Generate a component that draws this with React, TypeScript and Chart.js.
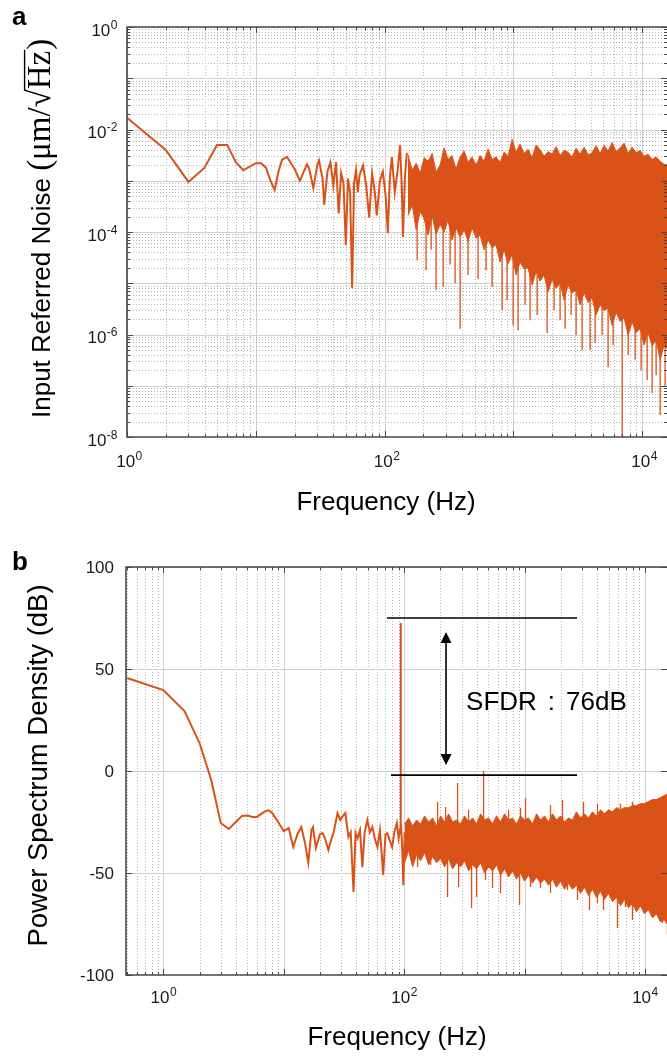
import React, { useEffect, useRef } from "react";
import { Chart, registerables } from "chart.js";

Chart.register(...registerables);

const SANS = '"Liberation Sans", Arial, Helvetica, sans-serif';
const SERIF = '"Liberation Serif", "Times New Roman", serif';
const ORANGE = "rgb(217,83,25)";
const AXIS = "#474747";
const MAJOR_GRID = "#d0d0d0";
const MINOR_GRID = "#b4b4b4";

// ---------------- Panel a : input referred noise ----------------
const aFreqRange = [1, 15600];
const aNoiseRange = [1e-8, 1];
const aXTickExps = [0, 2, 4];
const aYTickExps = [0, -2, -4, -6, -8];

const aTraceFreq = [1, 2, 3, 4, 5, 6, 7, 8, 10, 11, 12, 13, 14, 15, 16, 17.5, 20, 22, 23, 25, 26, 28, 30, 31, 33, 34, 36, 38, 40, 42, 44, 46, 48, 50, 52, 54, 56, 58, 60, 62, 64, 68, 72, 76, 80, 84, 87, 92, 97, 102, 106, 110, 114, 120, 126, 132, 136, 139, 144, 149];
const aTraceNoise = [1.7e-2, 4.0e-3, 9.5e-4, 1.8e-3, 5.0e-3, 5.0e-3, 2.3e-3, 1.6e-3, 2.2e-3, 2.2e-3, 1.8e-3, 1.0e-3, 6.6e-4, 1.5e-3, 2.6e-3, 2.9e-3, 1.7e-3, 1.0e-3, 1.3e-3, 2.1e-3, 1.7e-3, 7.2e-4, 2.0e-3, 2.5e-3, 1.1e-3, 3.4e-4, 1.5e-3, 2.3e-3, 8e-4, 2.3e-3, 2.3e-4, 1.4e-3, 9e-4, 5.6e-5, 1.1e-3, 6e-4, 8e-6, 9e-4, 1.6e-3, 6e-4, 1.3e-3, 2.0e-3, 8e-4, 1.9e-4, 1.4e-3, 6e-4, 2.1e-4, 1.0e-3, 1.5e-3, 5e-4, 9.5e-5, 1.2e-3, 2.9e-3, 6e-4, 1.5e-3, 5e-3, 8e-4, 8e-5, 1.2e-3, 3.5e-3];

const aBandFreq = [152, 164, 176, 189, 203, 218, 234, 251, 270, 290, 311, 334, 359, 386, 415, 445, 478, 514, 552, 593, 637, 684, 735, 789, 848, 910, 978, 1050, 1128, 1212, 1302, 1398, 1502, 1614, 1733, 1862, 2000, 2148, 2307, 2479, 2662, 2860, 3072, 3299, 3544, 3807, 4089, 4392, 4718, 5069, 5443, 5848, 6283, 6748, 7249, 7787, 8362, 8983, 9649, 10364, 11133, 11958, 12847, 13799, 14822, 15920];
const aBandTop = [3.2e-3, 1.6e-3, 2.2e-3, 1.4e-3, 2.8e-3, 2.4e-3, 3.4e-3, 1.5e-3, 2.0e-3, 4.4e-3, 2.6e-3, 3.1e-3, 1.7e-3, 2.9e-3, 3.8e-3, 2.3e-3, 2.9e-3, 2.0e-3, 3.1e-3, 2.4e-3, 4.2e-3, 2.6e-3, 2.9e-3, 2.3e-3, 3.6e-3, 3.0e-3, 6.4e-3, 3.6e-3, 5.2e-3, 3.4e-3, 4.1e-3, 2.8e-3, 5.0e-3, 4.0e-3, 3.0e-3, 3.7e-3, 3.3e-3, 4.6e-3, 3.1e-3, 3.9e-3, 3.6e-3, 2.9e-3, 4.3e-3, 3.3e-3, 4.5e-3, 3.2e-3, 3.5e-3, 4.8e-3, 3.4e-3, 4.9e-3, 3.8e-3, 5.6e-3, 3.7e-3, 4.4e-3, 5.4e-3, 3.4e-3, 4.5e-3, 3.5e-3, 3.9e-3, 3.0e-3, 3.3e-3, 2.6e-3, 2.9e-3, 2.4e-3, 2.1e-3, 2.0e-3];
const aBandBottom = [2.1e-4, 3.4e-4, 1.1e-4, 2.5e-4, 1.8e-4, 8.7e-5, 2.1e-4, 9.0e-5, 1.4e-4, 1.0e-4, 1.7e-4, 7.0e-5, 1.2e-4, 8.0e-5, 1.1e-4, 6.6e-5, 1.2e-4, 7.6e-5, 8.7e-5, 4.5e-5, 7.0e-5, 5.0e-5, 5.6e-5, 2.6e-5, 4.5e-5, 2.4e-5, 3.6e-5, 1.45e-5, 2.6e-5, 1.9e-5, 2.0e-5, 9.2e-6, 1.7e-5, 1.1e-5, 1.45e-5, 6.7e-6, 1.2e-5, 8.0e-6, 1.0e-5, 4.7e-6, 9.2e-6, 6.5e-6, 7.4e-6, 3.8e-6, 6.5e-6, 4.2e-6, 5.2e-6, 2.4e-6, 3.8e-6, 2.9e-6, 3.3e-6, 1.5e-6, 2.7e-6, 1.8e-6, 2.1e-6, 9.8e-7, 1.75e-6, 1.1e-6, 1.3e-6, 6.2e-7, 1.1e-6, 6.0e-7, 7.8e-7, 3.2e-7, 6.2e-7, 5.0e-7];

const aSpikeFreq = [179, 210, 230, 251, 285, 323, 353, 386, 445, 532, 614, 684, 818, 894, 996, 1089, 1234, 1349, 1530, 1829, 2073, 2307, 2523, 2809, 3072, 3420, 3946, 4315, 4890, 5443, 5955, 6995, 7787, 8824, 9822, 10935, 11958, 12847, 13799, 15085];
const aSpikeLow = [2.8e-5, 1.8e-5, 4.5e-5, 7.4e-6, 8.5e-6, 2.3e-5, 1.0e-5, 1.3e-6, 1.45e-5, 1.2e-5, 1.8e-5, 8.5e-6, 3.0e-6, 4.7e-6, 1.5e-6, 1.2e-6, 3.8e-6, 1.9e-6, 2.4e-6, 1.07e-6, 3.0e-6, 1.9e-6, 1.3e-6, 2.4e-6, 9.8e-7, 5.0e-7, 5.0e-7, 6.8e-7, 9.8e-7, 2.3e-7, 6.2e-7, 5e-9, 4.0e-7, 3.2e-7, 2.0e-7, 1.3e-7, 7.2e-8, 1.6e-7, 2.7e-8, 9.5e-8];
const aSpikeHigh = [1e-3, 1e-3, 1e-3, 1e-3, 1e-3, 1e-3, 1e-3, 1e-3, 1e-3, 1e-3, 1e-3, 1e-3, 1e-3, 1e-3, 1e-3, 1e-3, 1e-3, 1e-3, 1e-3, 1e-3, 1e-3, 1e-3, 1e-3, 1e-3, 1e-3, 1e-3, 1e-3, 1e-3, 1e-3, 1e-3, 1e-3, 1e-3, 1e-3, 1e-3, 1e-3, 1e-3, 1e-3, 1e-3, 1e-3, 1e-3];

// ---------------- Panel b : power spectrum density ----------------
const bFreqRange = [0.49, 15250];
const bDbRange = [-100, 100];
const bXTickExps = [0, 2, 4];
const bYTicks = [100, 50, 0, -50, -100];

const bTraceFreq = [0.5, 1, 1.5, 2, 2.5, 3, 3.5, 4, 4.5, 5, 5.5, 6, 6.5, 7, 7.5, 8, 9, 10, 11, 12, 13, 14, 15, 16, 17, 17.5, 18.5, 20, 21, 22, 23.5, 25, 26, 28, 29.5, 31, 32.5, 34.5, 36, 38, 39.5, 41, 43, 45, 47, 49.5, 52, 54.5, 57, 60, 63, 67, 70, 72.5, 76, 79.5, 83, 87, 90, 93, 93.5, 94, 96, 98.5, 101];
const bTraceDb = [45.6, 39.7, 29.4, 13.7, -4.4, -25.5, -28.4, -25, -22, -21.8, -22.5, -22.5, -21, -19.8, -19.3, -20.5, -25, -29.5, -28, -37.3, -31, -27.5, -35, -45, -29, -27.5, -37.7, -31, -30.4, -33, -38.7, -33, -30, -20.6, -24, -22, -20.6, -32.4, -30, -59.3, -30.4, -33, -29, -47.1, -30, -24, -30, -27.5, -33, -37.3, -29, -51, -31, -30.4, -34, -37.3, -30, -25.5, -33, -28, 72.5, -25, -35, -56, -30];

const bBandFreq = [101, 109, 117.6, 127, 137, 148, 159.7, 172.4, 186.1, 200.9, 216.8, 234, 252.6, 272.7, 294.3, 317.7, 343, 370.2, 399.6, 431.4, 465.6, 502.6, 542.5, 585.6, 632.1, 682.3, 736.5, 795, 858.2, 926.4, 1000, 1079, 1165, 1258, 1358, 1466, 1582, 1708, 1843, 1990, 2148, 2318, 2502, 2701, 2916, 3148, 3398, 3668, 3959, 4274, 4613, 4980, 5375, 5802, 6263, 6761, 7298, 7878, 8503, 9178, 9907, 10690, 11540, 12460, 13450, 14510, 15670];
const bBandTop = [-26, -23, -27, -24, -26, -22, -25, -23, -27, -22, -25, -21, -25, -24, -26, -22, -25, -23, -26, -21, -24, -23, -26, -22, -25, -21, -24, -23, -26, -22, -24, -23, -26, -21, -24, -22, -25, -21, -24, -22, -25, -23, -24, -20, -23, -21, -23, -20, -22, -19, -21, -19, -20, -18, -19, -18, -18, -17, -17, -16, -16, -15, -14, -14, -13, -12, -11];
const bBandBottom = [-45, -39, -47, -41, -44, -40, -46, -42, -45, -43, -47, -43, -48, -45, -47, -44, -49, -46, -48, -45, -50, -47, -49, -46, -51, -48, -52, -49, -53, -50, -54, -51, -55, -52, -55, -53, -56, -53, -57, -54, -58, -55, -58, -56, -60, -57, -61, -58, -62, -59, -63, -60, -64, -62, -66, -63, -67, -65, -69, -66, -70, -68, -72, -70, -74, -73, -76];

const bSpikeFreq = [129.4, 165.9, 229.6, 283.5, 363.3, 399.6, 474.7, 542.5, 632.1, 908.8, 1121, 1358, 1644, 1915, 2275, 2754, 3463, 4035, 4525, 5913, 6889, 7878, 9718, 11766, 13970, 15370, 189.7, 221, 278, 343, 457, 736.5, 926, 1019, 1644, 2068, 3088, 4035, 6263, 7878];
const bSpikeLow = [-47.1, -46.1, -61.8, -56.9, -67.2, -61.8, -53.4, -57.4, -59.8, -65.7, -56.9, -57.4, -59.8, -54.9, -58.3, -63.2, -68.1, -64.7, -68.1, -77, -66.7, -73, -68.1, -69.6, -74.5, -80, -35, -35, -35, -35, -35, -35, -35, -35, -35, -35, -35, -35, -35, -35];
const bSpikeHigh = [-35, -35, -35, -35, -35, -35, -35, -35, -35, -35, -35, -35, -35, -35, -35, -35, -35, -35, -35, -35, -35, -35, -35, -35, -35, -35, -15.2, -17.6, -5.9, -19, 0, -19, -18, -13.2, -16.7, -14.2, -15.2, -16, -16, -15.2];

// SFDR annotation (data units)
const sfdrTopDb = 75;
const sfdrBottomDb = -2;
const sfdrTopFreqStart = 72.1;
const sfdrBottomFreqStart = 77.8;
const sfdrFreqEnd = 2729;
const sfdrArrowFreq = 222.9;
const sfdrArrowTopDb = 68.1;
const sfdrArrowBottomDb = 2.9;
const sfdrLabelFreq = 327;
const sfdrLabelDb = 30;
const sfdrLabelParts = ["SFDR", ":", "76dB"];

// ---------------- helpers ----------------
function pts(xs: number[], ys: number[]) {
  return xs.map((x, i) => ({ x, y: ys[i] }));
}
function spikePts(xs: number[], lo: number[], hi: number[]) {
  const out: { x: number; y: number }[] = [];
  xs.forEach((x, i) => {
    out.push({ x, y: lo[i] });
    out.push({ x, y: hi[i] });
    out.push({ x, y: NaN });
  });
  return out;
}
function logGrid(min: number, max: number) {
  const out: { v: number; major: boolean }[] = [];
  const k0 = Math.floor(Math.log10(min));
  const k1 = Math.ceil(Math.log10(max));
  for (let k = k0; k <= k1; k++) {
    for (let m = 1; m <= 9; m++) {
      const v = m * Math.pow(10, k);
      if (v >= min * 0.9999 && v <= max * 1.0001) out.push({ v, major: m === 1 });
    }
  }
  return out;
}
function seg(ctx: CanvasRenderingContext2D, x1: number, y1: number, x2: number, y2: number) {
  ctx.beginPath();
  ctx.moveTo(x1, y1);
  ctx.lineTo(x2, y2);
  ctx.stroke();
}
function pow10Label(ctx: CanvasRenderingContext2D, exp: string, x: number, baseline: number, align: "center" | "right") {
  const base = `17px ${SANS}`;
  const sup = `12px ${SANS}`;
  ctx.font = base;
  const w1 = ctx.measureText("10").width;
  ctx.font = sup;
  const w2 = ctx.measureText(exp).width;
  const x0 = align === "center" ? x - (w1 + w2) / 2 : x - (w1 + w2);
  ctx.textAlign = "left";
  ctx.textBaseline = "alphabetic";
  ctx.fillStyle = "#1a1a1a";
  ctx.font = base;
  ctx.fillText("10", x0, baseline);
  ctx.font = sup;
  ctx.fillText(exp, x0 + w1 + 0.5, baseline - 7);
}
function drawLogXGrid(chart: any, range: number[]) {
  const { ctx, chartArea: a, scales } = chart;
  for (const t of logGrid(range[0], range[1])) {
    const px = Math.round(scales.x.getPixelForValue(t.v)) + 0.5;
    ctx.strokeStyle = t.major ? MAJOR_GRID : MINOR_GRID;
    ctx.setLineDash(t.major ? [] : [1, 2]);
    ctx.lineWidth = 1;
    seg(ctx, px, a.top, px, a.bottom);
  }
}
function drawLogXTicks(chart: any, range: number[]) {
  const { ctx, chartArea: a, scales } = chart;
  ctx.strokeStyle = AXIS;
  ctx.setLineDash([]);
  ctx.lineWidth = 1;
  for (const t of logGrid(range[0], range[1])) {
    const px = Math.round(scales.x.getPixelForValue(t.v)) + 0.5;
    const len = t.major ? 6 : 3;
    seg(ctx, px, a.bottom, px, a.bottom - len);
    seg(ctx, px, a.top, px, a.top + len);
  }
}
function drawFrame(chart: any) {
  const { ctx, chartArea: a } = chart;
  ctx.strokeStyle = AXIS;
  ctx.setLineDash([]);
  ctx.lineWidth = 1.6;
  ctx.beginPath();
  ctx.moveTo(a.right + 2, a.top);
  ctx.lineTo(a.left, a.top);
  ctx.lineTo(a.left, a.bottom);
  ctx.lineTo(a.right + 2, a.bottom);
  ctx.stroke();
}
function letter(ctx: CanvasRenderingContext2D, t: string, x: number, y: number) {
  ctx.font = `bold 26px ${SANS}`;
  ctx.fillStyle = "#000";
  ctx.textAlign = "left";
  ctx.textBaseline = "alphabetic";
  ctx.fillText(t, x, y);
}
function xTitle(ctx: CanvasRenderingContext2D, cx: number, baseline: number) {
  ctx.font = `26px ${SANS}`;
  ctx.fillStyle = "#000";
  ctx.textAlign = "center";
  ctx.textBaseline = "alphabetic";
  ctx.fillText("Frequency (Hz)", cx, baseline);
}

// ---------------- panel plugins ----------------
const panelAPlugin = {
  id: "panelA",
  beforeDatasetsDraw(chart: any) {
    const { ctx, chartArea: a, scales } = chart;
    ctx.save();
    ctx.beginPath();
    ctx.rect(a.left, a.top, a.right - a.left, a.bottom - a.top);
    ctx.clip();
    drawLogXGrid(chart, aFreqRange);
    for (const t of logGrid(aNoiseRange[0], aNoiseRange[1])) {
      const py = Math.round(scales.y.getPixelForValue(t.v)) + 0.5;
      ctx.strokeStyle = t.major ? MAJOR_GRID : MINOR_GRID;
      ctx.setLineDash(t.major ? [] : [1, 2]);
      ctx.lineWidth = 1;
      seg(ctx, a.left, py, a.right, py);
    }
    ctx.restore();
  },
  afterDatasetsDraw(chart: any) {
    const { ctx, chartArea: a, scales } = chart;
    ctx.save();
    drawLogXTicks(chart, aFreqRange);
    ctx.strokeStyle = AXIS;
    ctx.lineWidth = 1;
    for (const t of logGrid(aNoiseRange[0], aNoiseRange[1])) {
      const py = Math.round(scales.y.getPixelForValue(t.v)) + 0.5;
      const len = t.major ? 6 : 3;
      seg(ctx, a.left, py, a.left + len, py);
      seg(ctx, a.right, py, a.right - len, py);
    }
    drawFrame(chart);
    for (const e of aXTickExps) {
      const px = scales.x.getPixelForValue(Math.pow(10, e));
      pow10Label(ctx, String(e), px + 2, a.bottom + 30, "center");
    }
    for (const e of aYTickExps) {
      const py = scales.y.getPixelForValue(Math.pow(10, e));
      pow10Label(ctx, String(e), a.left - 10, py + 8.5, "right");
    }
    xTitle(ctx, 386, 510);
    // y title with mixed fonts
    ctx.translate(50, 418);
    ctx.rotate(-Math.PI / 2);
    ctx.fillStyle = "#000";
    ctx.textAlign = "left";
    ctx.textBaseline = "alphabetic";
    let x = 0;
    ctx.font = `26px ${SANS}`;
    const p1 = "Input Referred Noise ";
    ctx.fillText(p1, x, 0);
    x += ctx.measureText(p1).width;
    const ss = 33;
    ctx.font = `${ss}px ${SERIF}`;
    ctx.fillText("(μm/", x, 0);
    x += ctx.measureText("(μm/").width;
    ctx.fillText("√", x, 0);
    const wr = ctx.measureText("√").width;
    x += wr;
    ctx.fillText("Hz", x, 0);
    const wHz = ctx.measureText("Hz").width;
    ctx.strokeStyle = "#000";
    ctx.lineWidth = 1.4;
    seg(ctx, x - 1.5, -0.77 * ss, x + wHz + 1, -0.77 * ss);
    x += wHz + 1;
    ctx.fillText(")", x, 0);
    ctx.restore();
    ctx.save();
    letter(ctx, "a", 12, 25);
    ctx.restore();
  },
};

const panelBPlugin = {
  id: "panelB",
  beforeDatasetsDraw(chart: any) {
    const { ctx, chartArea: a, scales } = chart;
    ctx.save();
    ctx.beginPath();
    ctx.rect(a.left, a.top, a.right - a.left, a.bottom - a.top);
    ctx.clip();
    drawLogXGrid(chart, bFreqRange);
    for (const v of bYTicks) {
      const py = Math.round(scales.y.getPixelForValue(v)) + 0.5;
      ctx.strokeStyle = MAJOR_GRID;
      ctx.setLineDash([]);
      ctx.lineWidth = 1;
      seg(ctx, a.left, py, a.right, py);
    }
    ctx.restore();
  },
  afterDatasetsDraw(chart: any) {
    const { ctx, chartArea: a, scales } = chart;
    ctx.save();
    drawLogXTicks(chart, bFreqRange);
    ctx.strokeStyle = AXIS;
    ctx.lineWidth = 1;
    for (const v of bYTicks) {
      const py = Math.round(scales.y.getPixelForValue(v)) + 0.5;
      seg(ctx, a.left, py, a.left + 6, py);
      seg(ctx, a.right, py, a.right - 6, py);
    }
    drawFrame(chart);
    // SFDR annotation
    const xs = scales.x, ys = scales.y;
    ctx.strokeStyle = "#000";
    ctx.fillStyle = "#000";
    ctx.lineWidth = 1.6;
    const yTop = ys.getPixelForValue(sfdrTopDb);
    const yBot = ys.getPixelForValue(sfdrBottomDb);
    const xEnd = xs.getPixelForValue(sfdrFreqEnd);
    seg(ctx, xs.getPixelForValue(sfdrTopFreqStart), yTop, xEnd, yTop);
    seg(ctx, xs.getPixelForValue(sfdrBottomFreqStart), yBot, xEnd, yBot);
    const ax = xs.getPixelForValue(sfdrArrowFreq);
    const ay1 = ys.getPixelForValue(sfdrArrowTopDb);
    const ay2 = ys.getPixelForValue(sfdrArrowBottomDb);
    const hl = 11, hw = 5.5;
    seg(ctx, ax, ay1 + hl - 1, ax, ay2 - hl + 1);
    ctx.beginPath();
    ctx.moveTo(ax, ay1);
    ctx.lineTo(ax - hw, ay1 + hl);
    ctx.lineTo(ax + hw, ay1 + hl);
    ctx.closePath();
    ctx.fill();
    ctx.beginPath();
    ctx.moveTo(ax, ay2);
    ctx.lineTo(ax - hw, ay2 - hl);
    ctx.lineTo(ax + hw, ay2 - hl);
    ctx.closePath();
    ctx.fill();
    ctx.font = `26px ${SANS}`;
    ctx.textAlign = "left";
    ctx.textBaseline = "alphabetic";
    const lx = xs.getPixelForValue(sfdrLabelFreq);
    const ly = ys.getPixelForValue(sfdrLabelDb);
    const gap = 11;
    const w0 = ctx.measureText(sfdrLabelParts[0]).width;
    const w1 = ctx.measureText(sfdrLabelParts[1]).width;
    ctx.fillText(sfdrLabelParts[0], lx, ly);
    ctx.fillText(sfdrLabelParts[1], lx + w0 + gap, ly);
    ctx.fillText(sfdrLabelParts[2], lx + w0 + gap + w1 + gap, ly);
    // tick labels
    for (const e of bXTickExps) {
      const px = xs.getPixelForValue(Math.pow(10, e));
      pow10Label(ctx, String(e), px, a.bottom + 28, "center");
    }
    ctx.font = `17px ${SANS}`;
    ctx.fillStyle = "#1a1a1a";
    ctx.textAlign = "right";
    ctx.textBaseline = "middle";
    for (const v of bYTicks) {
      ctx.fillText(String(v), a.left - 12, ys.getPixelForValue(v) + 1);
    }
    xTitle(ctx, 397, 517);
    ctx.translate(47, 237.5);
    ctx.rotate(-Math.PI / 2);
    ctx.font = `27.5px ${SANS}`;
    ctx.fillStyle = "#000";
    ctx.textAlign = "center";
    ctx.textBaseline = "alphabetic";
    ctx.fillText("Power Spectrum Density (dB)", 0, 0);
    ctx.restore();
    ctx.save();
    letter(ctx, "b", 12, 42);
    ctx.restore();
  },
};

function lineDs(data: any[], width: number, extra: any = {}) {
  return {
    data,
    borderColor: ORANGE,
    backgroundColor: ORANGE,
    borderWidth: width,
    pointRadius: 0,
    tension: 0,
    fill: false,
    spanGaps: false,
    clip: 0,
    ...extra,
  };
}

function baseOptions(padding: any, xRange: number[], y: any) {
  return {
    responsive: false,
    animation: false as const,
    events: [] as any[],
    layout: { padding },
    scales: {
      x: { type: "logarithmic", min: xRange[0], max: xRange[1], display: false },
      y: { ...y, display: false },
    },
    plugins: { legend: { display: false }, tooltip: { enabled: false }, title: { display: false } },
  };
}

export default function App() {
  const refA = useRef<HTMLCanvasElement>(null);
  const refB = useRef<HTMLCanvasElement>(null);

  useEffect(() => {
    const chartA = new Chart(refA.current as HTMLCanvasElement, {
      type: "line",
      data: {
        datasets: [
          lineDs(pts(aTraceFreq, aTraceNoise), 2),
          lineDs(pts(aBandFreq, aBandTop), 1),
          lineDs(pts(aBandFreq, aBandBottom), 1, { fill: "-1" }),
          lineDs(spikePts(aSpikeFreq, aSpikeLow, aSpikeHigh), 1.3),
        ],
      },
      options: baseOptions({ left: 127, top: 27, right: 0, bottom: 91 }, aFreqRange, {
        type: "logarithmic",
        min: aNoiseRange[0],
        max: aNoiseRange[1],
      }) as any,
      plugins: [panelAPlugin],
    });
    const chartB = new Chart(refB.current as HTMLCanvasElement, {
      type: "line",
      data: {
        datasets: [
          lineDs(pts(bTraceFreq, bTraceDb), 2),
          lineDs(pts(bBandFreq, bBandTop), 1),
          lineDs(pts(bBandFreq, bBandBottom), 1, { fill: "-1" }),
          lineDs(spikePts(bSpikeFreq, bSpikeLow, bSpikeHigh), 1.3),
        ],
      },
      options: baseOptions({ left: 126, top: 39, right: 0, bottom: 81 }, bFreqRange, {
        type: "linear",
        min: bDbRange[0],
        max: bDbRange[1],
      }) as any,
      plugins: [panelBPlugin],
    });
    return () => {
      chartA.destroy();
      chartB.destroy();
    };
  }, []);

  return (
    <div style={{ position: "absolute", left: 0, top: 0, width: 667, height: 1056, background: "#fff", overflow: "hidden" }}>
      <canvas ref={refA} width={667} height={528} style={{ position: "absolute", left: 0, top: 0, width: 667, height: 528 }} />
      <canvas ref={refB} width={667} height={528} style={{ position: "absolute", left: 0, top: 528, width: 667, height: 528 }} />
    </div>
  );
}
